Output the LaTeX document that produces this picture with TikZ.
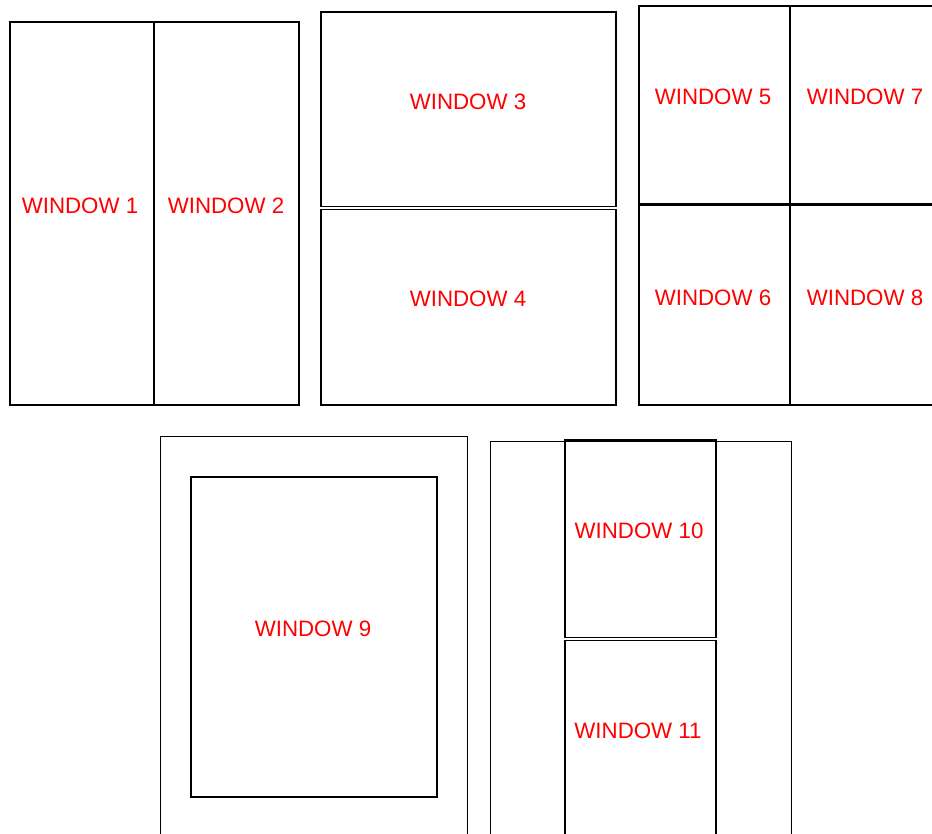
\documentclass[tikz,border=0pt]{standalone}
\usepackage{fontspec}
\setmainfont{Liberation Sans}
\begin{document}
\begin{tikzpicture}[x=1pt,y=-1pt,
  win/.style={draw=black, line width=1.5pt},
  winthin/.style={draw=black, line width=1pt},
  lbl/.style={text=red, font=\fontsize{22.3}{26}\selectfont, inner sep=0pt}]
\useasboundingbox (0,0) rectangle (932,834);
\clip (0,0) rectangle (932,834);
% group 1
\draw[win] (10,22) rectangle (154,405);
\draw[win] (154,22) rectangle (299,405);
\node[lbl] (w1) at (80,206) {WINDOW 1};
\node[lbl] (w2) at (226,206) {WINDOW 2};
% group 2
\draw[win] (321,12) rectangle (616,206.5);
\draw[win] (321,209.5) rectangle (616,405);
\node[lbl] (w3) at (468,102) {WINDOW 3};
\node[lbl] (w4) at (468,299) {WINDOW 4};
% group 3
\draw[win, line width=1.8pt] (639,6) rectangle (790,204);
\draw[win, line width=1.8pt] (639,205) rectangle (790,405);
\draw[win, line width=1.8pt] (790,6) rectangle (942,204);
\draw[win, line width=1.8pt] (790,205) rectangle (942,405);
\node[lbl] (w5) at (713,97) {WINDOW 5};
\node[lbl] (w7) at (865,97) {WINDOW 7};
\node[lbl] (w6) at (713,298) {WINDOW 6};
\node[lbl] (w8) at (865,298) {WINDOW 8};
% group 4
\draw[winthin] (160,436) rectangle (467,850);
\draw[win] (191,477) rectangle (437,797);
\node[lbl] (w9) at (313,629) {WINDOW 9};
% group 5
\draw[winthin] (490,441) rectangle (791,850);
\draw[win] (565,440) rectangle (716,637.5);
\draw[win] (565,640.5) rectangle (716,850);
\node[lbl] (w10) at (639,531) {WINDOW 10};
\node[lbl] (w11) at (638,731) {WINDOW 11};
\end{tikzpicture}
\end{document}
